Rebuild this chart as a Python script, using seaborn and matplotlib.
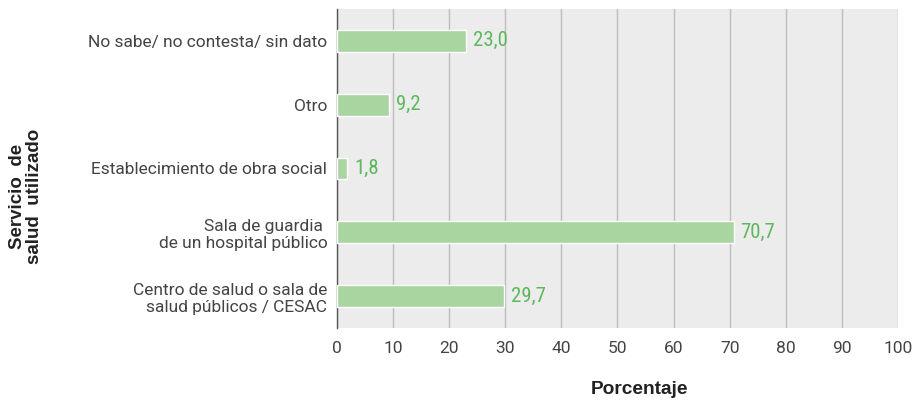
import pandas as pd
import seaborn as sns
import matplotlib.pyplot as plt

# Datos
servicios = [
    'No sabe/ no contesta/ sin dato',
    'Otro',
    'Establecimiento de obra social',
    'Sala de guardia \nde un hospital público',
    'Centro de salud o sala de\nsalud públicos / CESAC',
]
porcentajes = [23.0, 9.2, 1.8, 70.7, 29.7]
etiquetas = ['23,0', '9,2', '1,8', '70,7', '29,7']
ticks_x = [0, 10, 20, 30, 40, 50, 60, 70, 80, 90, 100]

df = pd.DataFrame({'Servicio': servicios, 'Porcentaje': porcentajes})

sns.set_style('white')
plt.rcParams['font.family'] = ['Roboto', 'DejaVu Sans']

fig = plt.figure(figsize=(9.23, 4.03), dpi=100)
ax = fig.add_axes([0.3651, 0.1861, 0.6078, 0.7916])
ax.set_facecolor('#ececec')

sns.barplot(data=df, x='Porcentaje', y='Servicio', orient='h',
            color='#a8d5a0', saturation=1, width=0.34, ax=ax, zorder=3)

ax.bar_label(ax.containers[0], labels=etiquetas, padding=5, color='#5cb85c',
             fontsize=15,
             family=['Roboto Condensed', 'Liberation Sans Narrow', 'DejaVu Sans'],
             fontstretch='condensed')

ax.set_xlim(0, 100)
ax.set_ylim(4.5, -0.5)
ax.set_xticks(ticks_x)
ax.set_xticklabels([str(t) for t in ticks_x])
ax.grid(axis='x', color='#bdbdbd', linewidth=1, zorder=0)
ax.set_axisbelow(True)

for s in ['top', 'right', 'bottom']:
    ax.spines[s].set_visible(False)
ax.spines['left'].set_color('#555555')
ax.spines['left'].set_linewidth(1)

ax.tick_params(axis='both', length=0, labelsize=12.5, labelcolor='#444444')
ax.tick_params(axis='x', pad=9)
ax.tick_params(axis='y', pad=7)

ax.set_xlabel('')
ax.set_ylabel('')
fig.text(639 / 923, 1 - 390 / 403, 'Porcentaje', ha='center', va='center',
         fontsize=13.8, fontweight='bold', color='#222222',
         family=['Liberation Sans', 'DejaVu Sans'])
fig.text(26 / 923, 1 - 196 / 403, 'Servicio  de\nsalud  utilizado', rotation=90,
         ha='center', va='center', fontsize=13.5, fontweight='bold',
         color='#222222', family=['Liberation Sans', 'DejaVu Sans'],
         linespacing=1.0, multialignment='center')

fig.savefig('out.png', dpi=100)
